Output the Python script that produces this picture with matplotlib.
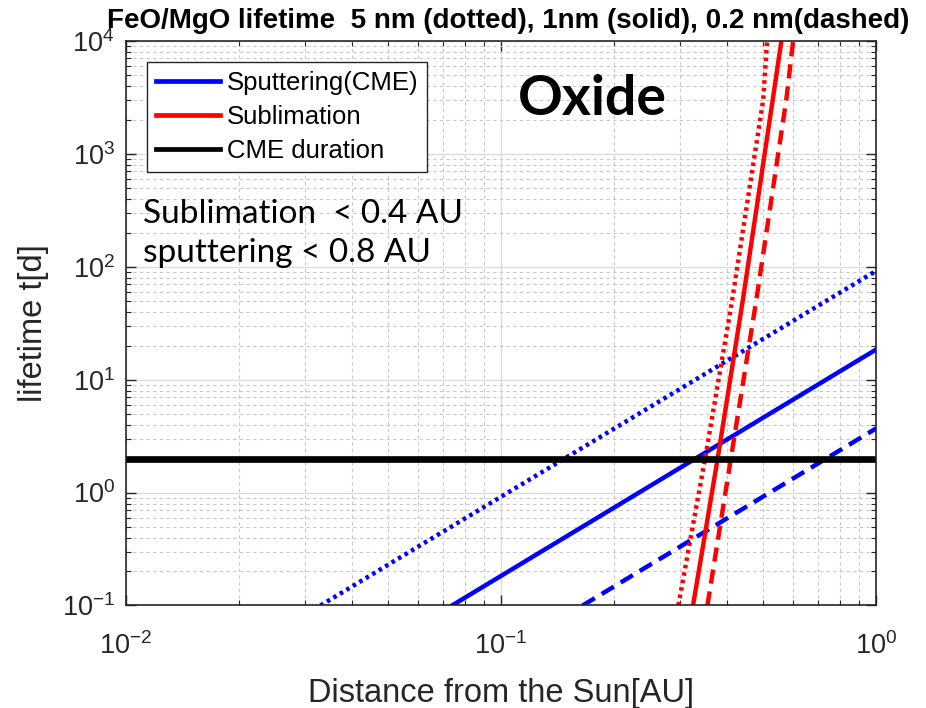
import matplotlib
matplotlib.use("Agg")
import matplotlib.pyplot as plt
from matplotlib.lines import Line2D
from matplotlib.ticker import LogLocator, LogFormatterSciNotation, NullFormatter

# film thickness: 5 nm (dotted), 1 nm (solid), 0.2 nm (dashed)
sput_r_dot = [0.033, 1.0]
sput_t_dot = [0.1, 92.0]
sput_r_solid = [0.074, 1.0]
sput_t_solid = [0.1, 18.5]
sput_r_dash = [0.165, 1.0]
sput_t_dash = [0.1, 3.7]

subl_t = [0.1, 2.0, 50.0, 3000.0, 10000.0]
subl_r_dot = [0.297, 0.350, 0.413, 0.500, 0.512]
subl_r_solid = [0.325, 0.378, 0.441, 0.530, 0.559]
subl_r_dash = [0.355, 0.410, 0.479, 0.576, 0.601]

cme_r = [0.01, 1.0]
cme_t = [2.0, 2.0]

legend_labels = ["Sputtering(CME)", "Sublimation", "CME duration"]
legend_colors = ["#0000ff", "#ff0000", "#000000"]

plt.rcParams["font.family"] = ["Liberation Sans", "DejaVu Sans"]
plt.rcParams["mathtext.fontset"] = "custom"
plt.rcParams["mathtext.rm"] = "Liberation Sans"
plt.rcParams["mathtext.it"] = "Liberation Sans:italic"
plt.rcParams["mathtext.bf"] = "Liberation Sans:bold"

DOT = (0, (0.8, 0.9))
DASH = (0, (3.2, 1.8))
AX_COL = "#262626"

fig = plt.figure(figsize=(9.26, 7.08), dpi=100)
ax = fig.add_axes([0.1361, 0.1448, 0.81, 0.7973])

ax.plot(sput_r_dot, sput_t_dot, color="#0000ff", lw=3.2, linestyle=DOT)
ax.plot(sput_r_solid, sput_t_solid, color="#0000ff", lw=3.2)
ax.plot(sput_r_dash, sput_t_dash, color="#0000ff", lw=3.2, linestyle=DASH)

ax.plot(subl_r_dot, subl_t, color="#ff0000", lw=3.2, linestyle=DOT)
ax.plot(subl_r_solid, subl_t, color="#ff0000", lw=3.2)
ax.plot(subl_r_dash, subl_t, color="#ff0000", lw=3.2, linestyle=DASH)

ax.plot(cme_r, cme_t, color="black", lw=4.8)

ax.set_xscale("log")
ax.set_yscale("log")
ax.set_xlim(0.01, 1)
ax.set_ylim(0.1, 1e4)

ax.xaxis.set_major_locator(LogLocator(base=10, numticks=10))
ax.yaxis.set_major_locator(LogLocator(base=10, numticks=10))
ax.xaxis.set_minor_locator(LogLocator(base=10, subs=range(2, 10), numticks=20))
ax.yaxis.set_minor_locator(LogLocator(base=10, subs=range(2, 10), numticks=20))
ax.xaxis.set_major_formatter(LogFormatterSciNotation())
ax.yaxis.set_major_formatter(LogFormatterSciNotation())
ax.xaxis.set_minor_formatter(NullFormatter())
ax.yaxis.set_minor_formatter(NullFormatter())

ax.set_axisbelow(True)
ax.grid(True, which="major", color="#dcdcdc", linestyle="-", lw=1.0)
ax.grid(True, which="minor", color="#c8c8c8", linestyle=(0, (3, 3)), lw=0.8)

ax.tick_params(which="both", direction="in", top=True, right=True,
               color=AX_COL, labelcolor=AX_COL, labelsize=19.5)
ax.tick_params(which="major", length=7, width=1.0)
ax.tick_params(which="minor", length=3.5, width=0.8)
ax.tick_params(axis="y", pad=8)
ax.tick_params(axis="x", pad=19)
for sp in ax.spines.values():
    sp.set_color(AX_COL)
    sp.set_linewidth(1.2)

ax.set_xlabel("Distance from the Sun[AU]", fontsize=23.5, color=AX_COL, labelpad=13)
ax.set_ylabel("lifetime t[d]", fontsize=23.5, color=AX_COL, labelpad=9)
ax.set_title("FeO/MgO lifetime  5 nm (dotted), 1nm (solid), 0.2 nm(dashed)",
             fontsize=20, fontweight="bold", pad=9, x=0.509)

handles = [Line2D([0], [0], color=c, lw=3.4) for c in legend_colors]
leg = ax.legend(handles, legend_labels, loc="upper left",
                bbox_to_anchor=(0.028, 0.963), borderaxespad=0,
                fontsize=18.5, handlelength=2.5, handletextpad=0.25,
                labelspacing=0.4, borderpad=0.35, fancybox=False,
                framealpha=1, edgecolor=AX_COL)
leg.get_frame().set_linewidth(1.0)

ax.text(0.523, 0.869, "Oxide", transform=ax.transAxes, family="Lato",
        fontweight="bold", fontsize=40, va="baseline")
ax.text(0.0227, 0.6776, "Sublimation  < 0.4 AU", transform=ax.transAxes,
        family="Lato", fontsize=24, va="baseline")
ax.text(0.0227, 0.609, "sputtering < 0.8 AU", transform=ax.transAxes,
        family="Lato", fontsize=24, va="baseline")

fig.savefig("out.png", dpi=100)
plt.close(fig)
